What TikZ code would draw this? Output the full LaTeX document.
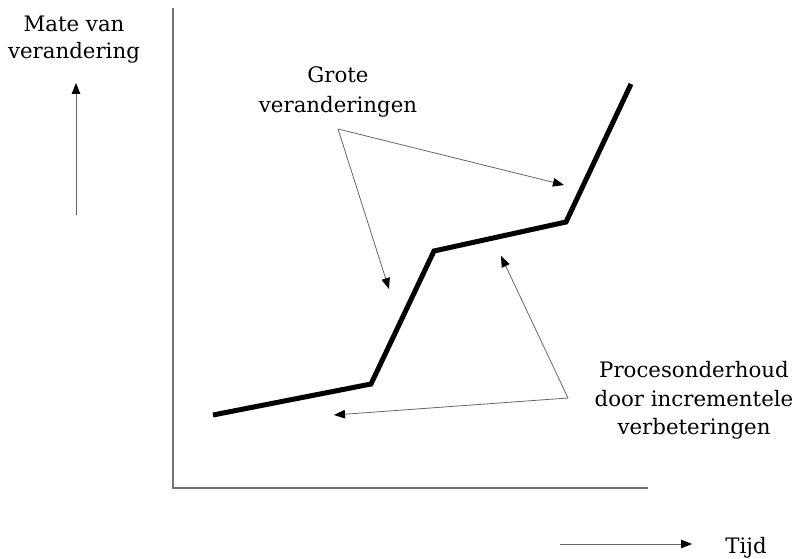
\documentclass[tikz,border=0pt]{standalone}
\usepackage{fontspec}
\setmainfont{DejaVu Serif}
\usetikzlibrary{arrows.meta}
\begin{document}
\begin{tikzpicture}[x=1pt,y=-1pt,
  axisline/.style={draw=black!55,line width=1.8pt},
  curve/.style={draw=black,line width=5pt,line join=miter},
  pointer/.style={draw=black!60,line width=0.8pt,-{Triangle[length=11pt,width=8.5pt,fill=black,color=black]}},
  lbl/.style={font=\fontsize{21.3}{28.5}\selectfont,align=center,inner sep=0pt}]
\useasboundingbox (0,0) rectangle (795,559);
% axes
\coordinate (ytop) at (173,8);
\coordinate (origin) at (173,488);
\coordinate (xend) at (648,488);
\draw[axisline] (ytop) -- (origin) -- (xend);
% axis direction arrows
\coordinate (ya) at (76,215);
\coordinate (yb) at (76,83);
\draw[pointer] (ya) -- (yb);
\coordinate (xa) at (560,544);
\coordinate (xb) at (692,544);
\draw[pointer] (xa) -- (xb);
% labels
\node[lbl,font=\fontsize{21.3}{27}\selectfont] (ylab) at (74,39.5) {Mate van\\verandering};
\node[lbl,anchor=base] (xlab) at (746,553) {Tijd};
\node[lbl,font=\fontsize{21.3}{29.5}\selectfont] (grote) at (338,92) {Grote\\veranderingen};
\node[lbl] (proc) at (694,400.7) {Procesonderhoud\\door incrementele\\verbeteringen};
% change curve
\coordinate (p1) at (213,415);
\coordinate (p2) at (371,384);
\coordinate (p3) at (434,251);
\coordinate (p4) at (566,222);
\coordinate (p5) at (631,84);
\draw[curve] (p1) -- (p2) -- (p3) -- (p4) -- (p5);
% pointers from the labels
\coordinate (g0) at (338,129);
\coordinate (g1) at (564,185);
\coordinate (g2) at (389,289);
\draw[pointer] (g0) -- (g1);
\draw[pointer] (g0) -- (g2);
\coordinate (q0) at (568,398);
\coordinate (q1) at (501,256);
\coordinate (q2) at (334,415);
\draw[pointer] (q0) -- (q1);
\draw[pointer] (q0) -- (q2);
\end{tikzpicture}
\end{document}
